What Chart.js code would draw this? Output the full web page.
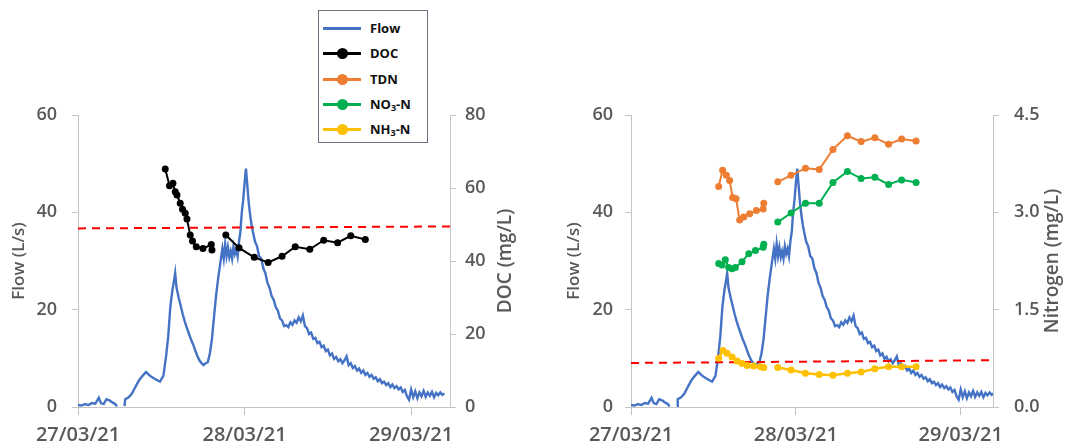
<!DOCTYPE html>
<html>
<head>
<meta charset="utf-8">
<script src="https://cdn.jsdelivr.net/npm/chart.js@4.4.1/dist/chart.umd.min.js"></script>
<style>
  html, body { margin: 0; padding: 0; background: #fff; }
  #wrap { position: relative; width: 1069px; height: 446px; overflow: hidden; }
  #left { position: absolute; left: 0; top: 0; }
  #right { position: absolute; left: 534px; top: 0; }
  #legend {
    position: absolute; left: 318px; top: 10px; width: 108px; height: 131px;
    border: 1px solid #6b7280; background: #fff; font-family: "Open Sans", sans-serif;
    font-weight: 700; font-size: 13px; color: #111;
  }
  #legend .item { position: absolute; left: 0; height: 20px; line-height: 20px; }
  #legend .line { position: absolute; left: 4px; top: 9px; width: 38px; height: 3px; }
  #legend .dot { position: absolute; left: 18px; top: 5px; width: 11px; height: 11px; border-radius: 50%; }
  #legend .txt { position: absolute; left: 51px; top: 0; white-space: nowrap; }
  #legend sub { font-size: 9px; vertical-align: -2px; line-height: 0; }
</style>
</head>
<body>
<div id="wrap">
  <canvas id="left" width="534" height="446"></canvas>
  <canvas id="right" width="535" height="446"></canvas>
  <div id="legend"></div>
</div>
<script>
// tick labels
const xTickHours = [0, 24, 48];
const xTickLabels = ['27/03/21', '28/03/21', '29/03/21'];
const flowTicks = [0, 20, 40, 60];
const docTicks = [0, 20, 40, 60, 80];
const nTicks = [0, 1.5, 3.0, 4.5];

// flow (L/s), hours after 27/03/21 00:00
const flowHours = [0, 0.5, 1, 1.5, 2, 2.5, 3, 3.3, 3.7, 4.1, 4.6, 5.0, 5.4, 5.6, 6.0, 6.7, 6.8, 7.3, 7.8, 8.3,
  8.8, 9.3, 9.8, 10.3, 10.8, 11.3, 11.8, 12.3, 12.7, 13.0, 13.3, 13.6, 13.9, 14.0, 14.2, 14.5, 14.8, 15.1, 15.4, 15.7,
  16.0, 16.3, 16.6, 16.9, 17.2, 17.5, 17.8, 18.1, 18.4, 18.7, 19.0, 19.3, 19.6, 19.9, 20.2, 20.5, 20.8, 21.0, 21.2, 21.4,
  21.6, 21.8, 22.0, 22.2, 22.4, 22.6, 22.8, 23.0, 23.2, 23.4, 23.6, 23.8, 24.0, 24.2, 24.4, 24.6, 24.8, 25.0, 25.2, 25.5,
  25.8, 26.1, 26.4, 26.7, 27.0, 27.3, 27.6, 27.9, 28.2, 28.5, 28.8, 29.1, 29.4, 29.7, 30.0, 30.3, 30.6, 30.9, 31.2, 31.5,
  31.8, 32.1, 32.4, 32.7, 33.0, 33.3, 33.6, 33.9, 34.2, 34.5, 34.8, 35.1, 35.4, 35.7, 36.0, 36.3, 36.6, 36.9, 37.2, 37.5,
  37.8, 38.1, 38.4, 38.7, 39.0, 39.3, 39.6, 39.9, 40.2, 40.5, 40.8, 41.1, 41.4, 41.7, 42.0, 42.3, 42.6, 42.9, 43.2, 43.5,
  43.8, 44.1, 44.4, 44.7, 45.0, 45.3, 45.6, 45.9, 46.2, 46.5, 46.8, 47.1, 47.4, 47.7, 48.0, 48.3, 48.6, 48.9, 49.2, 49.5,
  49.8, 50.1, 50.4, 50.7, 51.0, 51.3, 51.6, 51.9, 52.2, 52.5, 52.8];
const flowLps = [0.4, 0.3, 0.6, 0.4, 0.8, 0.7, 1.9, 0.8, 0.6, 1.6, 1.3, 0.9, 0.6, 0.1, null, 0.2, 1.6, 2.0, 2.8, 4.2,
  5.5, 6.4, 7.2, 6.5, 6.0, 5.6, 5.2, 6.4, 10.5, 14.5, 20.5, 24.0, 26.5, 27.5, 24.5, 22.5, 20.8, 19.0, 17.5, 16.2,
  15.0, 13.8, 12.8, 11.6, 10.5, 9.6, 9.0, 8.6, 9.0, 9.2, 11.0, 14.0, 18.5, 23.0, 26.5, 29.5, 32.5, 30.5, 33.5, 31.0,
  32.8, 30.8, 32.0, 30.5, 33.0, 31.5, 32.5, 31.0, 34.0, 36.0, 40.0, 42.5, 46.0, 49.0, 45.5, 42.0, 39.5, 37.5, 36.0, 34.0,
  33.0, 31.0, 30.5, 28.5, 27.5, 25.5, 24.5, 22.8, 22.0, 20.5, 19.8, 18.2, 17.8, 16.6, 16.8, 16.4, 17.4, 16.9, 17.8, 17.3,
  18.4, 17.6, 18.8, 16.6, 16.2, 15.0, 15.3, 14.0, 14.2, 13.1, 13.4, 12.3, 12.6, 11.5, 11.8, 10.6, 11.0, 9.9, 10.3, 9.4,
  9.8, 9.0, 9.6, 10.4, 8.6, 9.0, 8.0, 8.4, 7.5, 7.9, 7.0, 7.5, 6.6, 7.0, 6.2, 6.6, 5.8, 6.1, 5.3, 5.7,
  4.9, 5.2, 4.5, 4.9, 4.1, 4.6, 3.9, 4.3, 3.6, 4.0, 3.1, 3.5, 2.2, 1.5, 3.6, 2.0, 3.2, 1.8, 3.0, 2.2,
  3.3, 2.1, 3.0, 2.3, 3.1, 2.0, 2.9, 2.4, 3.0, 2.5, 2.8];

// DOC (mg/L)
const docHours = [12.57, 13.19, 13.68, 14.01, 14.26, 14.73, 15.06, 15.45, 15.70, 16.17, 16.50, 17.04, 18.0, 19.2, 19.3,
  20.3, 21.3, 23.2, 25.4, 27.4, 29.4, 31.3, 33.4, 35.4, 37.4, 39.3, 41.4];
const docMgL = [65.2, 60.6, 61.3, 59.0, 58.1, 55.8, 54.2, 53.1, 51.5, 47.1, 45.5, 43.9, 43.4, 44.5, 43.0,
  null, 47.1, 43.6, 41.0, 39.6, 41.3, 43.9, 43.2, 45.7, 45.0, 46.9, 45.9];

// Nitrogen (mg/L)
const tdnHours = [12.76, 13.34, 13.88, 14.36, 14.80, 15.29, 15.82, 16.41, 17.28, 18.26, 19.24, 19.33,
  20.3, 21.37, 23.3, 25.4, 27.4, 29.4, 31.5, 33.5, 35.5, 37.5, 39.4, 41.5];
const tdnMgL = [3.40, 3.65, 3.57, 3.49, 3.23, 3.21, 2.88, 2.93, 2.98, 3.03, 3.05, 3.14,
  null, 3.47, 3.57, 3.68, 3.66, 3.97, 4.18, 4.09, 4.15, 4.05, 4.13, 4.10];
const no3Hours = [12.76, 13.25, 13.73, 14.22, 14.71, 15.19, 16.17, 17.14, 18.12, 19.24, 19.33,
  20.3, 21.37, 23.3, 25.4, 27.4, 29.4, 31.5, 33.5, 35.5, 37.5, 39.4, 41.5];
const no3MgL = [2.21, 2.19, 2.27, 2.15, 2.13, 2.15, 2.24, 2.36, 2.41, 2.46, 2.51,
  null, 2.85, 2.99, 3.14, 3.14, 3.46, 3.63, 3.52, 3.54, 3.43, 3.50, 3.46];
const nh3Hours = [12.76, 13.39, 13.98, 14.71, 15.44, 16.17, 16.90, 17.87, 18.85, 19.33,
  20.3, 21.37, 23.3, 25.4, 27.4, 29.4, 31.5, 33.5, 35.5, 37.5, 39.4, 41.5];
const nh3MgL = [0.75, 0.87, 0.83, 0.77, 0.71, 0.67, 0.64, 0.63, 0.62, 0.61,
  null, 0.61, 0.57, 0.52, 0.50, 0.49, 0.52, 0.54, 0.59, 0.62, 0.62, 0.62];

// red dashed reference lines (flow axis), start and end
const refLeft = [36.7, 37.1];
const refRight = [9.05, 9.6];

const colors = { flow: '#4472c4', doc: '#000000', tdn: '#ed7d31', no3: '#00b050', nh3: '#ffc000', ref: '#ff0000' };
const textColor = '#595959';
const axisColor = '#c4c4c4';
const fontName = '"Open Sans", sans-serif';

function pts(xs, ys) { return xs.map((x, i) => ({ x: x, y: ys[i] })); }

function flowSet() {
  return { data: pts(flowHours, flowLps), yAxisID: 'y', borderColor: colors.flow, borderWidth: 2.4,
    pointRadius: 0, spanGaps: false, order: 3 };
}
function refSet(vals, xMax) {
  return { data: [{ x: 0, y: vals[0] }, { x: xMax, y: vals[1] }], yAxisID: 'y', borderColor: colors.ref,
    borderWidth: 2, borderDash: [8, 6], pointRadius: 0, order: 2 };
}
function markSet(xs, ys, color, r, w) {
  return { data: pts(xs, ys), yAxisID: 'y2', borderColor: color, backgroundColor: color, borderWidth: w || 2,
    pointRadius: r, pointBorderWidth: 0, spanGaps: false, order: 1 };
}

// right axis title reads bottom-to-top like the left one
const rightTitle = {
  id: 'rightTitle',
  afterDraw(chart, args, opts) {
    const s = chart.scales.y2;
    const ctx = chart.ctx;
    ctx.save();
    ctx.translate(s.left + opts.offset, (s.top + s.bottom) / 2);
    ctx.rotate(-Math.PI / 2);
    ctx.font = '600 19px ' + fontName;
    ctx.fillStyle = textColor;
    ctx.textAlign = 'center';
    ctx.textBaseline = 'middle';
    ctx.fillText(opts.text, 0, 0);
    ctx.restore();
  }
};

function makeOptions(cfg) {
  return {
    responsive: false,
    animation: false,
    layout: { padding: { top: 115, left: 0, right: 0, bottom: 0 } },
    plugins: { legend: { display: false }, tooltip: { enabled: false },
      rightTitle: { text: cfg.rightTitle, offset: cfg.rightTitleOffset } },
    scales: {
      x: {
        type: 'linear', min: 0, max: cfg.xMax,
        afterBuildTicks: s => { s.ticks = xTickHours.map(v => ({ value: v })); },
        afterFit: s => { s.height = 39; },
        ticks: { callback: v => xTickLabels[xTickHours.indexOf(v)], color: textColor, padding: 8,
          maxRotation: 0, autoSkip: false, font: { family: fontName, size: 20, weight: '600' } },
        grid: { drawOnChartArea: false, drawTicks: true, tickLength: 8, color: axisColor },
        border: { color: axisColor }
      },
      y: {
        position: 'left', min: 0, max: 60,
        afterBuildTicks: s => { s.ticks = flowTicks.map(v => ({ value: v })); },
        afterFit: s => { s.width = cfg.leftW; },
        ticks: { color: textColor, padding: cfg.leftPad, font: { family: fontName, size: 18, weight: '600' } },
        grid: { drawOnChartArea: false, drawTicks: true, tickLength: 6, color: axisColor },
        border: { color: axisColor },
        title: { display: true, text: 'Flow (L/s)', color: textColor, padding: { top: cfg.titlePad, bottom: 0 },
          font: { family: fontName, size: 17, weight: '600' } }
      },
      y2: {
        position: 'right', min: 0, max: cfg.y2Max,
        afterBuildTicks: s => { s.ticks = cfg.y2Ticks.map(v => ({ value: v })); },
        afterFit: s => { s.width = cfg.rightW; },
        ticks: { color: textColor, padding: cfg.rightPad, callback: cfg.y2Fmt,
          font: { family: fontName, size: 18, weight: '600' } },
        grid: { drawOnChartArea: false, drawTicks: true, tickLength: 6, color: axisColor },
        border: { color: axisColor }
      }
    }
  };
}

new Chart(document.getElementById('left'), {
  type: 'line',
  data: { datasets: [
    flowSet(),
    refSet(refLeft, 53.6),
    markSet(docHours, docMgL, colors.doc, 3.5, 2)
  ] },
  options: makeOptions({ xMax: 53.6, leftW: 78, rightW: 84, leftPad: 15, rightPad: 9, titlePad: 9,
    y2Max: 80, y2Ticks: docTicks, y2Fmt: v => String(v), rightTitle: 'DOC (mg/L)', rightTitleOffset: 56 }),
  plugins: [rightTitle]
});

new Chart(document.getElementById('right'), {
  type: 'line',
  data: { datasets: [
    flowSet(),
    refSet(refRight, 52.7),
    markSet(tdnHours, tdnMgL, colors.tdn, 3.5, 2),
    markSet(no3Hours, no3MgL, colors.no3, 3.5, 2),
    markSet(nh3Hours, nh3MgL, colors.nh3, 3.5, 2.5)
  ] },
  options: makeOptions({ xMax: 52.7, leftW: 97, rightW: 76, leftPad: 12, rightPad: 15, titlePad: 30,
    y2Max: 4.5, y2Ticks: nTicks, y2Fmt: v => v.toFixed(1), rightTitle: 'Nitrogen (mg/L)', rightTitleOffset: 60 }),
  plugins: [rightTitle]
});

// legend
const legendItems = [
  { label: 'Flow', color: colors.flow, dot: false },
  { label: 'DOC', color: colors.doc, dot: true },
  { label: 'TDN', color: colors.tdn, dot: true },
  { label: 'NO<sub>3</sub>-N', color: colors.no3, dot: true },
  { label: 'NH<sub>3</sub>-N', color: colors.nh3, dot: true }
];
const legend = document.getElementById('legend');
legendItems.forEach((it, i) => {
  const row = document.createElement('div');
  row.className = 'item';
  row.style.top = (7 + i * 25.3) + 'px';
  row.innerHTML = '<span class="line" style="background:' + it.color + '"></span>' +
    (it.dot ? '<span class="dot" style="background:' + it.color + '"></span>' : '') +
    '<span class="txt">' + it.label + '</span>';
  legend.appendChild(row);
});
</script>
</body>
</html>
